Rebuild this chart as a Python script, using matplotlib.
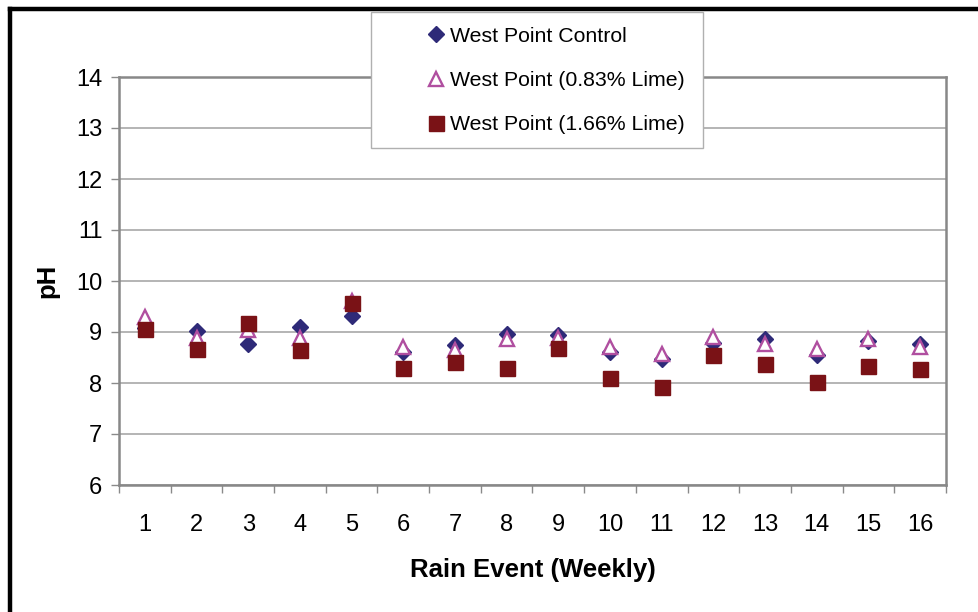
import matplotlib.pyplot as plt
from matplotlib.lines import Line2D
from matplotlib.patches import Rectangle

plt.rcParams['font.family'] = ['Liberation Sans', 'DejaVu Sans']

# weekly rain events and measured leachate pH
events = list(range(1, 17))
ph_control = [9.08, 9.02, 8.76, 9.09, 9.31, 8.61, 8.75, 8.97,
              8.95, 8.61, 8.48, 8.79, 8.86, 8.55, 8.83, 8.76]
ph_lime_083 = [9.30, 8.88, 9.04, 8.88, 9.60, 8.71, 8.65, 8.86,
               8.88, 8.70, 8.57, 8.90, 8.76, 8.66, 8.86, 8.70]
ph_lime_166 = [9.05, 8.67, 9.18, 8.65, 9.56, 8.29, 8.41, 8.29,
               8.69, 8.09, 7.92, 8.54, 8.37, 8.02, 8.33, 8.28]

labels = ['West Point Control', 'West Point (0.83% Lime)', 'West Point (1.66% Lime)']
y_ticks = list(range(6, 15))

fig = plt.figure(figsize=(9.79, 6.12), dpi=100)
ax = fig.add_axes([119 / 979, 1 - 485 / 612, (946 - 119) / 979, (485 - 77) / 612])

ax.plot(events, ph_control, linestyle='none', marker='D', ms=8.2,
        color='#2E2A78', label=labels[0], zorder=3)
ax.plot(events, ph_lime_083, linestyle='none', marker='^', ms=10,
        mfc='white', mec='#B04FA0', mew=1.7, label=labels[1], zorder=4)
ax.plot(events, ph_lime_166, linestyle='none', marker='s', ms=10.8,
        color='#7A1216', label=labels[2], zorder=5)

ax.set_xlim(0.5, 16.5)
ax.set_ylim(6, 14)
ax.set_yticks(y_ticks)
ax.set_xticks(events)
ax.set_xticks([e + 0.5 for e in range(0, 17)], minor=True)
ax.tick_params(axis='x', which='major', length=0, pad=21, labelsize=17)
ax.tick_params(axis='x', which='minor', length=6, width=1, color='#8a8a8a')
ax.tick_params(axis='y', length=6, width=1, color='#8a8a8a', pad=6, labelsize=17)

ax.grid(axis='y', color='#a8a8a8', linewidth=1.2)
ax.set_axisbelow(True)
for sp in ax.spines.values():
    sp.set_color('#888888')
    sp.set_linewidth(1.8)

ax.set_xlabel('Rain Event (Weekly)', fontsize=18.5, fontweight='bold', labelpad=16)
ax.set_ylabel('pH', fontsize=18.5, fontweight='bold', labelpad=12)

# legend box sits on top of the plot area
fig.add_artist(Rectangle((371 / 979, 1 - 148 / 612), (703 - 371) / 979, (148 - 12) / 612,
                         transform=fig.transFigure, facecolor='white',
                         edgecolor='#b0b0b0', linewidth=1, zorder=4))
fig.legend(loc='upper left', bbox_to_anchor=(420 / 979, 1 - 18 / 612),
           frameon=False, fontsize=15.3, handlelength=0.7, handletextpad=0.3,
           labelspacing=1.2, borderaxespad=0, numpoints=1).set_zorder(6)

# heavy frame along top and left edges
fig.add_artist(Line2D([10 / 979, 10 / 979], [0, 1 - 9 / 612], transform=fig.transFigure,
                      color='black', linewidth=3.2, solid_capstyle='projecting'))
fig.add_artist(Line2D([10 / 979, 1], [1 - 9 / 612, 1 - 9 / 612], transform=fig.transFigure,
                      color='black', linewidth=3.2, solid_capstyle='projecting'))

fig.savefig('out.png', dpi=100)
